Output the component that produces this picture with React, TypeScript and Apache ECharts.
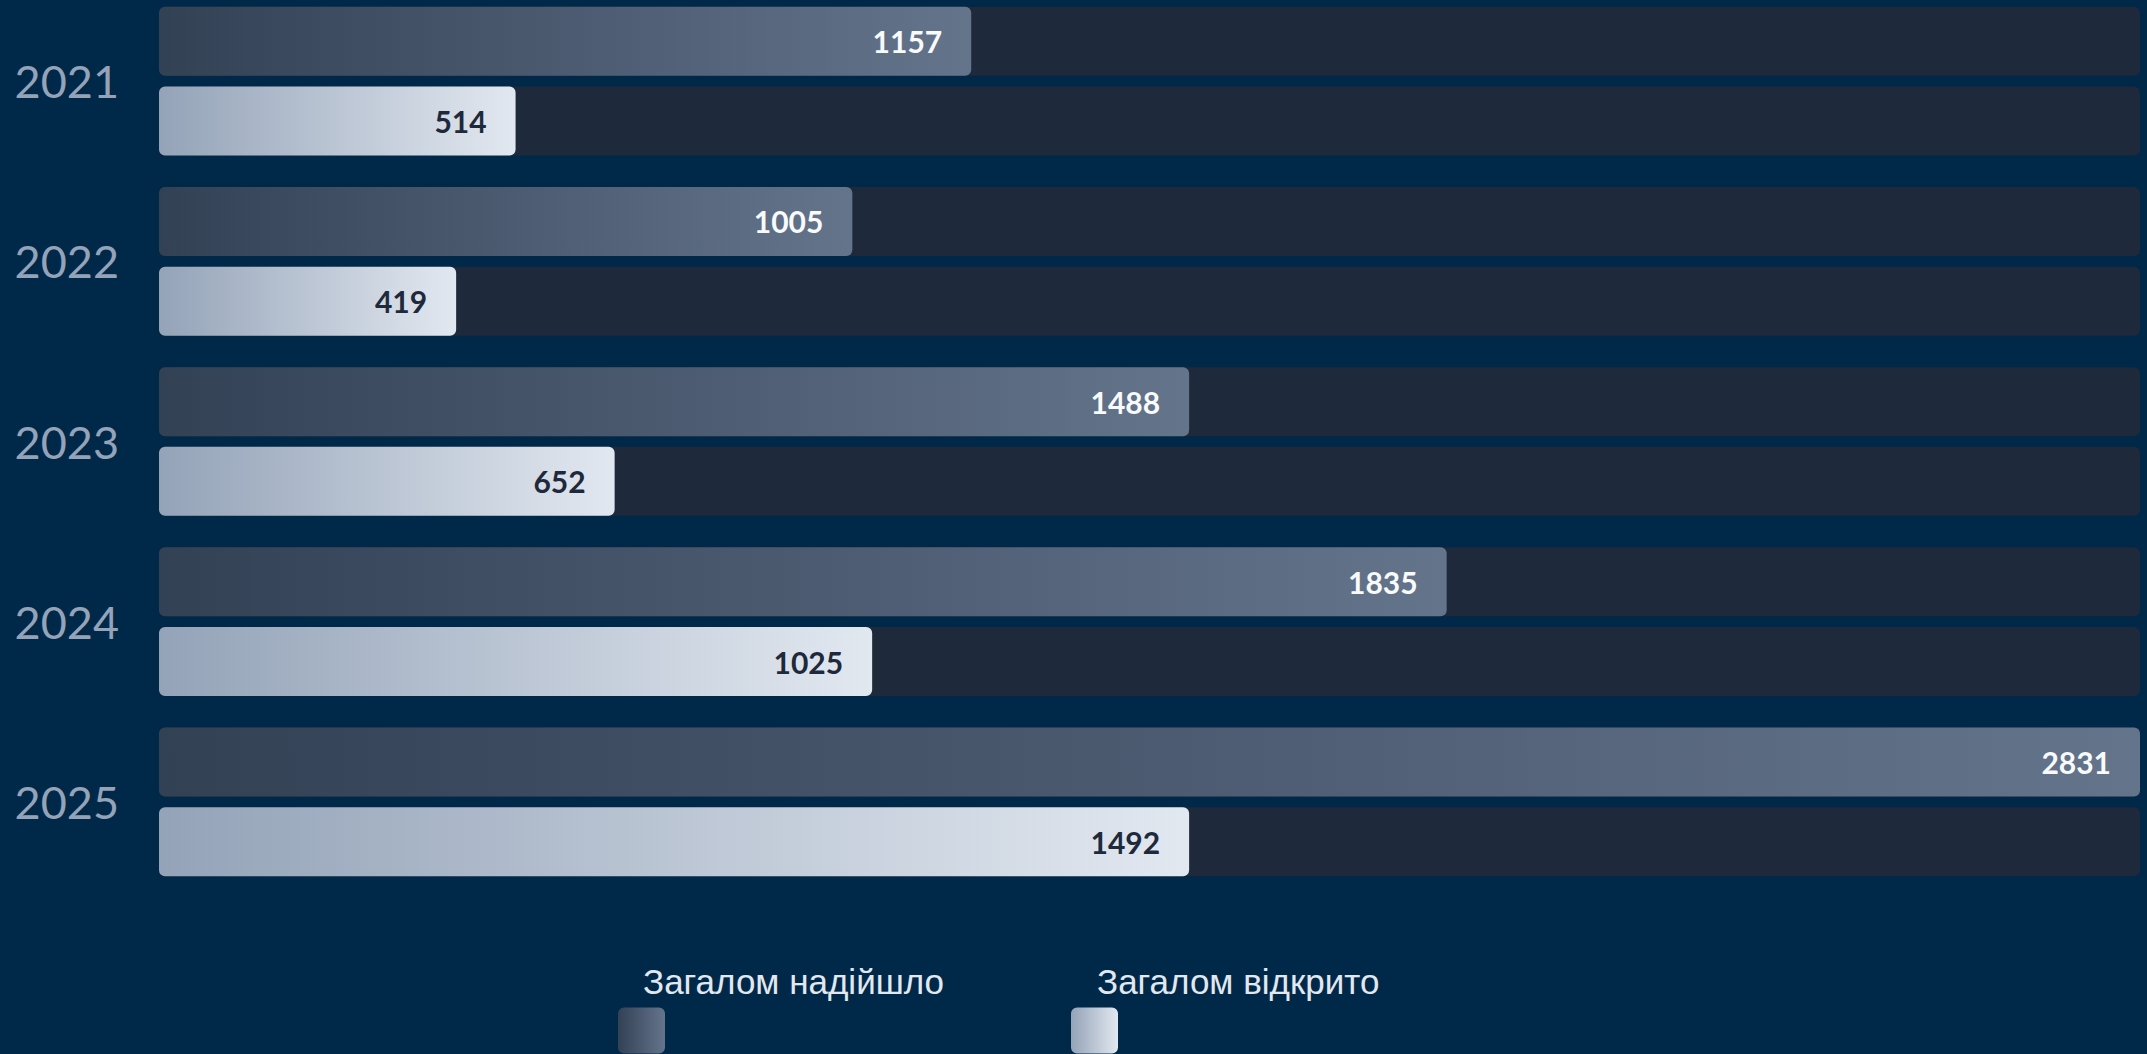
import React, { useEffect, useRef } from "react";
import * as echarts from "echarts";

const years = ["2021", "2022", "2023", "2024", "2025"];
// counts shown in the labels
const receivedCount = [1157, 1005, 1488, 1835, 2831];
const openedCount = [514, 419, 652, 1025, 1492];
// bar lengths as drawn, in percent of the track
const receivedShare = [41, 35, 52, 65, 100];
const openedShare = [18, 15, 23, 36, 52];
const seriesNames = ["Загалом надійшло", "Загалом відкрито"];

const BG = "#002849";
const SHIFT = 10;

export default function App() {
  const ref = useRef<HTMLDivElement>(null);
  useEffect(() => {
    document.body.style.margin = "0";
    document.body.style.background = BG;
    const chart = echarts.init(ref.current!, null, { renderer: "svg" });
    const darkGrad = new echarts.graphic.LinearGradient(0, 0, 1, 0, [
      { offset: 0, color: "#334155" },
      { offset: 1, color: "#64748b" },
    ]);
    const lightGrad = new echarts.graphic.LinearGradient(0, 0, 1, 0, [
      { offset: 0, color: "#94a3b8" },
      { offset: 1, color: "#e2e8f0" },
    ]);
    const iconPath =
      "path://M6,0H41A6,6,0,0,1,47,6V40A6,6,0,0,1,41,46H6A6,6,0,0,1,0,40V6A6,6,0,0,1,6,0Z";
    const legendText = (name: string, left: number) => ({
      data: [name],
      left,
      top: 964 + SHIFT,
      padding: 0,
      itemWidth: 0,
      itemHeight: 0,
      icon: "none",
      selectedMode: false,
      textStyle: {
        color: "#e2e8f0",
        fontSize: 35,
        fontFamily: "Liberation Sans, Arial, sans-serif",
      },
    });
    const legendIcon = (name: string, left: number) => ({
      data: [name],
      left,
      top: 1007 + SHIFT,
      padding: 0,
      itemWidth: 47,
      itemHeight: 47,
      icon: iconPath,
      selectedMode: false,
      formatter: () => "",
      textStyle: { fontSize: 1 },
    });
    const label = (counts: number[], color: string) => ({
      show: true,
      position: "insideRight",
      distance: 29,
      color,
      fontSize: 30,
      fontWeight: "bold",
      fontFamily: "Lato",
      formatter: (p: any) => String(counts[p.dataIndex]),
    });
    chart.setOption({
      animation: false,
      backgroundColor: BG,
      grid: { left: 159, right: 7, top: 1, height: 901, containLabel: false },
      legend: [
        legendText(seriesNames[0], 638),
        legendText(seriesNames[1], 1092),
        legendIcon(seriesNames[0], 618),
        legendIcon(seriesNames[1], 1071),
      ],
      xAxis: {
        type: "value",
        min: 0,
        max: 100,
        show: false,
      },
      yAxis: {
        type: "category",
        data: years,
        inverse: true,
        axisLine: { show: false },
        axisTick: { show: false },
        splitLine: { show: false },
        axisLabel: {
          color: "#94a3b8",
          fontSize: 45,
          fontFamily: "Lato",
          margin: 40,
        },
      },
      series: [
        {
          name: seriesNames[0],
          type: "bar",
          data: receivedShare,
          barWidth: 69,
          barGap: "15.5%",
          showBackground: true,
          backgroundStyle: { color: "#1e293b", borderRadius: 6 },
          itemStyle: { color: darkGrad, borderRadius: 6 },
          label: label(receivedCount, "#f8fafc"),
        },
        {
          name: seriesNames[1],
          type: "bar",
          data: openedShare,
          barWidth: 69,
          barGap: "15.5%",
          showBackground: true,
          backgroundStyle: { color: "#1e293b", borderRadius: 6 },
          itemStyle: { color: lightGrad, borderRadius: 6 },
          label: label(openedCount, "#1e293b"),
        },
      ],
    });
    return () => chart.dispose();
  }, []);
  return (
    <div
      ref={ref}
      style={{
        position: "fixed",
        left: 0,
        top: -SHIFT,
        width: 2147,
        height: 1054 + SHIFT,
        background: BG,
      }}
    />
  );
}
